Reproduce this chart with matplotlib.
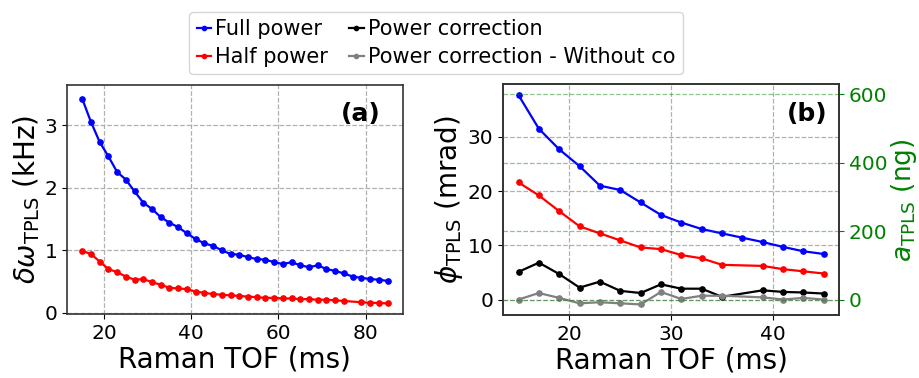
import matplotlib
matplotlib.use("Agg")
import matplotlib.pyplot as plt

# ---------------- data: panel (a) ----------------
tof_a = [15, 17, 19, 21, 23, 25, 27, 29, 31, 33, 35, 37, 39, 41, 43, 45, 47, 49,
         51, 53, 55, 57, 59, 61, 63, 65, 67, 69, 71, 73, 75, 77, 79, 81, 83, 85]
full_a = [3.42, 3.05, 2.73, 2.50, 2.25, 2.13, 1.94, 1.76, 1.66, 1.53, 1.44, 1.37,
          1.27, 1.18, 1.11, 1.07, 1.00, 0.94, 0.93, 0.89, 0.86, 0.85, 0.81, 0.78,
          0.81, 0.76, 0.73, 0.76, 0.70, 0.67, 0.63, 0.58, 0.56, 0.54, 0.53, 0.51]
tof_a_half = [15, 17, 19, 21, 23, 25, 27, 29, 31, 33, 35, 37, 39, 41, 43, 45, 47, 49,
              51, 53, 55, 57, 59, 61, 63, 65, 67, 69, 71, 73, 75, 79, 81, 83, 85]
half_a = [0.99, 0.94, 0.82, 0.70, 0.65, 0.58, 0.53, 0.54, 0.49, 0.45, 0.40, 0.39,
          0.38, 0.34, 0.32, 0.30, 0.29, 0.28, 0.27, 0.26, 0.25, 0.24, 0.24, 0.23,
          0.23, 0.22, 0.22, 0.21, 0.21, 0.20, 0.19, 0.17, 0.16, 0.16, 0.15]

# ---------------- data: panel (b) ----------------
tof_b = [15, 17, 19, 21, 23, 25, 27, 29, 31, 33, 35, 37, 39, 41, 43, 45]
full_b = [37.7, 31.5, 27.7, 24.6, 21.0, 20.2, 17.9, 15.6, 14.2, 13.0, 12.2, 11.4,
          10.6, 9.7, 8.9, 8.4]
tof_b2 = [15, 17, 19, 21, 23, 25, 27, 29, 31, 33, 35, 39, 41, 43, 45]
half_b = [21.6, 19.2, 16.3, 13.5, 12.2, 10.9, 9.6, 9.3, 8.2, 7.6, 6.4, 6.2, 5.6, 5.2, 4.8]
corr_b = [5.1, 6.8, 4.7, 2.2, 3.3, 1.6, 1.2, 2.8, 2.0, 2.0, 0.5, 1.7, 1.4, 1.3, 1.1]
corr_wo_b = [0.0, 1.2, 0.3, -0.7, -0.5, -0.7, -0.9, 1.4, 0.1, 0.7, 0.7, 0.4, 0.0, 0.3, 0.0]

labels = ["Full power", "Half power", "Power correction",
          "Power correction - Without co"]
colors = ["blue", "red", "black", "grey"]
ng_per_mrad = 15.84

plt.rcParams['font.family'] = ['DejaVu Sans']
TICK = 14.5
LAB = 20

fig = plt.figure(figsize=(9.2, 3.78), dpi=100)
ax1 = fig.add_axes([0.0728, 0.169, 0.365, 0.606])
ax2 = fig.add_axes([0.547, 0.166, 0.365, 0.611])

grid_kw = dict(color='#b0b0b0', linestyle='--', linewidth=0.9)
line_kw = dict(marker='o', markersize=3.8, linewidth=1.6)

# panel (a)
h1, = ax1.plot(tof_a, full_a, color=colors[0], label=labels[0], **line_kw)
h2, = ax1.plot(tof_a_half, half_a, color=colors[1], label=labels[1], **line_kw)
ax1.set_ylim(-0.02, 3.64)
ax1.set_xticks([20, 40, 60, 80])
ax1.set_yticks([0, 1, 2, 3])
ax1.grid(True, **grid_kw)
ax1.set_xlabel("Raman TOF (ms)", fontsize=LAB, labelpad=2)
ax1.set_ylabel(r"$\delta\omega_{\mathrm{TPLS}}$ (kHz)", fontsize=LAB, labelpad=2)
ax1.tick_params(labelsize=TICK)
ax1.text(0.935, 0.875, "(a)", transform=ax1.transAxes, ha='right', va='center',
         fontsize=18, fontweight='bold')

# panel (b)
ax2.plot(tof_b, full_b, color=colors[0], **line_kw)
ax2.plot(tof_b2, half_b, color=colors[1], **line_kw)
h3, = ax2.plot(tof_b2, corr_b, color=colors[2], label=labels[2], **line_kw)
h4, = ax2.plot(tof_b2, corr_wo_b, color=colors[3], label=labels[3], **line_kw)
ylim_b = (-2.9, 39.7)
ax2.set_ylim(*ylim_b)
ax2.set_xticks([20, 30, 40])
ax2.set_yticks([0, 10, 20, 30])
ax2.grid(True, **grid_kw)
ax2.set_xlabel("Raman TOF (ms)", fontsize=LAB, labelpad=2)
ax2.set_ylabel(r"$\phi_{\mathrm{TPLS}}$ (mrad)", fontsize=LAB, labelpad=2)
ax2.tick_params(labelsize=TICK)
ax2.text(0.965, 0.872, "(b)", transform=ax2.transAxes, ha='right', va='center',
         fontsize=18, fontweight='bold')

ax3 = ax2.twinx()
ax3.set_ylim(ylim_b[0] * ng_per_mrad, ylim_b[1] * ng_per_mrad)
ax3.set_yticks([0, 200, 400, 600])
ax3.grid(True, axis='y', color='green', alpha=0.45, linestyle='--', linewidth=0.9)
ax3.tick_params(axis='y', colors='green', labelsize=TICK)
ax3.set_ylabel(r"$a_{\mathrm{TPLS}}$ (ng)", fontsize=19, color='green', labelpad=1)

for ax in (ax1, ax2, ax3):
    for s in ax.spines.values():
        s.set_color('0.2')
        s.set_linewidth(1.2)

fig.legend(handles=[h1, h2, h3, h4], loc='upper center', bbox_to_anchor=(0.474, 0.997),
           ncol=2, fontsize=15, handlelength=0.7, handletextpad=0.2,
           columnspacing=1.0, labelspacing=0.4, borderpad=0.35, markerscale=0.8,
           framealpha=0.8, edgecolor='0.8')

fig.savefig("out.png", dpi=100)
